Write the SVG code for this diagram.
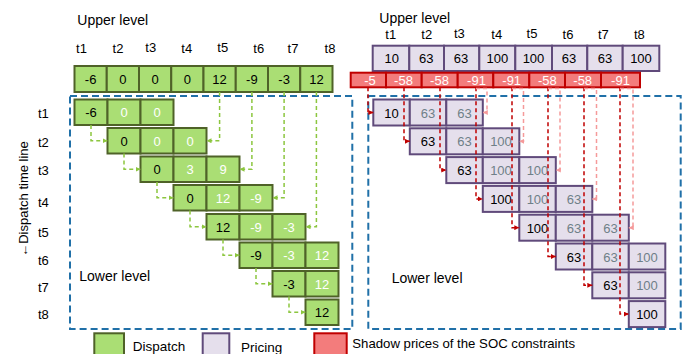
<svg xmlns="http://www.w3.org/2000/svg" width="683" height="354" viewBox="0 0 683 354">
<style>
text{font-family:"Liberation Sans",Arial,sans-serif;fill:#000}
.lbl{font-size:14px}
.t{font-size:13px;text-anchor:middle}
.v{font-size:13px;text-anchor:middle}
.w{fill:#fff}
.g{fill:#6f7f88}
.gb{fill:#aade74;stroke:#4f6228;stroke-width:2}
.pb{fill:#e5dfec;stroke:#604a7b;stroke-width:2}
.rb{fill:#f37c7c;stroke:#c00000;stroke-width:2}
.frame{fill:none;stroke:#2070a8;stroke-width:2;stroke-dasharray:7 4}
.cg{fill:none;stroke:#8cc63f;stroke-width:1.5;stroke-dasharray:4 3;marker-end:url(#ag)}
.cr{fill:none;stroke:#c00000;stroke-width:1.5;stroke-dasharray:4 3;marker-end:url(#ar)}
.cp{fill:none;stroke:#f59a9a;stroke-width:1.5;stroke-dasharray:4 3;marker-end:url(#ap)}
</style>
<defs>
<marker id="ag" viewBox="0 0 6 6" refX="6" refY="3" markerWidth="5" markerHeight="5" orient="auto" markerUnits="userSpaceOnUse"><path d="M0,0 L6,3 L0,6 z" fill="#8cc63f"/></marker>
<marker id="ar" viewBox="0 0 6 6" refX="6" refY="3" markerWidth="5" markerHeight="5" orient="auto" markerUnits="userSpaceOnUse"><path d="M0,0 L6,3 L0,6 z" fill="#c00000"/></marker>
<marker id="ap" viewBox="0 0 6 6" refX="6" refY="3" markerWidth="5" markerHeight="5" orient="auto" markerUnits="userSpaceOnUse"><path d="M0,0 L6,3 L0,6 z" fill="#f59a9a"/></marker>
</defs>

<g id="frames">
<rect class="frame" x="70" y="96" width="282.3" height="233"/>
<rect class="frame" x="368.3" y="96" width="312.4" height="233"/>
</g>

<g id="labels">
<text class="lbl" x="77.3" y="25">Upper level</text>
<text class="lbl" x="379.3" y="22.5">Upper level</text>
<text class="lbl" x="79.3" y="281">Lower level</text>
<text class="lbl" x="391.7" y="282.5">Lower level</text>
<text class="t" transform="translate(28,199) rotate(-90)">←Dispatch time line</text>
<text class="t" x="81.5" y="53">t1</text>
<text class="t" x="118" y="53">t2</text>
<text class="t" x="150.7" y="51.5">t3</text>
<text class="t" x="186.7" y="53">t4</text>
<text class="t" x="222.7" y="51.5">t5</text>
<text class="t" x="258.7" y="53">t6</text>
<text class="t" x="293" y="53">t7</text>
<text class="t" x="330" y="53">t8</text>
<text class="t" x="390.7" y="39">t1</text>
<text class="t" x="426.7" y="39">t2</text>
<text class="t" x="459.3" y="38">t3</text>
<text class="t" x="496.7" y="39">t4</text>
<text class="t" x="532" y="38">t5</text>
<text class="t" x="568" y="39">t6</text>
<text class="t" x="603.3" y="39">t7</text>
<text class="t" x="639.3" y="39">t8</text>
<text class="t" x="43.3" y="118">t1</text>
<text class="t" x="43.3" y="147">t2</text>
<text class="t" x="43.3" y="174.5">t3</text>
<text class="t" x="43.3" y="206.5">t4</text>
<text class="t" x="43.3" y="237">t5</text>
<text class="t" x="43.3" y="265">t6</text>
<text class="t" x="43.3" y="292">t7</text>
<text class="t" x="43.3" y="319">t8</text>
</g>

<g id="left-upper">
<rect class="gb" x="74.5" y="66" width="32.25" height="26"/>
<rect class="gb" x="106.75" y="66" width="32.25" height="26"/>
<rect class="gb" x="139" y="66" width="32.25" height="26"/>
<rect class="gb" x="171.25" y="66" width="32.25" height="26"/>
<rect class="gb" x="203.5" y="66" width="32.25" height="26"/>
<rect class="gb" x="235.75" y="66" width="32.25" height="26"/>
<rect class="gb" x="268" y="66" width="32.25" height="26"/>
<rect class="gb" x="300.25" y="66" width="32.25" height="26"/>
<text class="v" x="90.6" y="83.5">-6</text>
<text class="v" x="122.9" y="83.5">0</text>
<text class="v" x="155.1" y="83.5">0</text>
<text class="v" x="187.4" y="83.5">0</text>
<text class="v" x="219.6" y="83.5">12</text>
<text class="v" x="251.9" y="83.5">-9</text>
<text class="v" x="284.1" y="83.5">-3</text>
<text class="v" x="316.4" y="83.5">12</text>
</g>

<g id="left-t1">
<rect class="gb" x="74.5" y="99.5" width="33" height="25.5"/><rect class="gb" x="107.5" y="99.5" width="33" height="25.5"/><rect class="gb" x="140.5" y="99.5" width="33" height="25.5"/>
<text class="v" x="91" y="117">-6</text><text class="v w" x="124" y="117">0</text><text class="v w" x="157" y="117">0</text>
</g>
<g id="left-t2">
<rect class="gb" x="107.5" y="128" width="33" height="25.5"/><rect class="gb" x="140.5" y="128" width="33" height="25.5"/><rect class="gb" x="173.5" y="128" width="33" height="25.5"/>
<text class="v" x="124" y="145.5">0</text><text class="v w" x="157" y="145.5">0</text><text class="v w" x="190" y="145.5">0</text>
</g>
<g id="left-t3">
<rect class="gb" x="140.5" y="156.5" width="33" height="25.5"/><rect class="gb" x="173.5" y="156.5" width="33" height="25.5"/><rect class="gb" x="206.5" y="156.5" width="33" height="25.5"/>
<text class="v" x="157" y="174">0</text><text class="v w" x="190" y="174">3</text><text class="v w" x="223" y="174">9</text>
</g>
<g id="left-t4">
<rect class="gb" x="173.5" y="185" width="33" height="25.5"/><rect class="gb" x="206.5" y="185" width="33" height="25.5"/><rect class="gb" x="239.5" y="185" width="33" height="25.5"/>
<text class="v" x="190" y="202.5">0</text><text class="v w" x="223" y="202.5">12</text><text class="v w" x="256" y="202.5">-9</text>
</g>
<g id="left-t5">
<rect class="gb" x="206.5" y="214" width="33" height="25.5"/><rect class="gb" x="239.5" y="214" width="33" height="25.5"/><rect class="gb" x="272.5" y="214" width="33" height="25.5"/>
<text class="v" x="223" y="231.5">12</text><text class="v w" x="256" y="231.5">-9</text><text class="v w" x="289" y="231.5">-3</text>
</g>
<g id="left-t6">
<rect class="gb" x="239.5" y="242.5" width="33" height="25.5"/><rect class="gb" x="272.5" y="242.5" width="33" height="25.5"/><rect class="gb" x="305.5" y="242.5" width="33" height="25.5"/>
<text class="v" x="256" y="260">-9</text><text class="v w" x="289" y="260">-3</text><text class="v w" x="322" y="260">12</text>
</g>
<g id="left-t7">
<rect class="gb" x="272.5" y="271" width="33" height="25.5"/><rect class="gb" x="305.5" y="271" width="33" height="25.5"/>
<text class="v" x="289" y="288.5">-3</text><text class="v w" x="322" y="288.5">12</text>
</g>
<g id="left-t8">
<rect class="gb" x="305.5" y="299.5" width="33" height="25.5"/>
<text class="v" x="322" y="317">12</text>
</g>

<g id="right-upper">
<rect class="pb" x="372.7" y="45.7" width="36.6" height="25.3"/>
<rect class="pb" x="409.3" y="45.7" width="34.7" height="25.3"/>
<rect class="pb" x="444" y="45.7" width="35.3" height="25.3"/>
<rect class="pb" x="479.3" y="45.7" width="36" height="25.3"/>
<rect class="pb" x="515.3" y="45.7" width="36.7" height="25.3"/>
<rect class="pb" x="552" y="45.7" width="35.3" height="25.3"/>
<rect class="pb" x="587.3" y="45.7" width="35.4" height="25.3"/>
<rect class="pb" x="622.7" y="45.7" width="36.6" height="25.3"/>
<text class="v" x="391.7" y="63">10</text>
<text class="v" x="426.3" y="63">63</text>
<text class="v" x="461" y="63">63</text>
<text class="v" x="497.3" y="63">100</text>
<text class="v" x="533.5" y="63">100</text>
<text class="v" x="569" y="63">63</text>
<text class="v" x="605" y="63">63</text>
<text class="v" x="641" y="63">100</text>
</g>

<g id="shadow-prices">
<rect class="rb" x="350.7" y="72.7" width="35.3" height="14.6"/>
<rect class="rb" x="386" y="72.7" width="35.7" height="14.6"/>
<rect class="rb" x="421.7" y="72.7" width="36" height="14.6"/>
<rect class="rb" x="457.7" y="72.7" width="35.6" height="14.6"/>
<rect class="rb" x="493.3" y="72.7" width="36" height="14.6"/>
<rect class="rb" x="529.3" y="72.7" width="35.7" height="14.6"/>
<rect class="rb" x="565" y="72.7" width="36" height="14.6"/>
<rect class="rb" x="601" y="72.7" width="39" height="14.6"/>
<text class="v w" x="370" y="85">-5</text>
<text class="v w" x="403.5" y="85">-58</text>
<text class="v w" x="439.5" y="85">-58</text>
<text class="v w" x="476.5" y="85">-91</text>
<text class="v w" x="511.7" y="85">-91</text>
<text class="v w" x="547.3" y="85">-58</text>
<text class="v w" x="582.7" y="85">-58</text>
<text class="v w" x="620.5" y="85">-91</text>
</g>

<g id="right-t1">
<rect class="pb" x="373.3" y="99.5" width="36.5" height="26"/><rect class="pb" x="409.8" y="99.5" width="36.5" height="26"/><rect class="pb" x="446.3" y="99.5" width="36.5" height="26"/>
<text class="v" x="391.5" y="117.5">10</text><text class="v g" x="428" y="117.5">63</text><text class="v g" x="464.5" y="117.5">63</text>
</g>
<g id="right-t2">
<rect class="pb" x="409.8" y="128.3" width="36.5" height="26"/><rect class="pb" x="446.3" y="128.3" width="36.5" height="26"/><rect class="pb" x="482.8" y="128.3" width="36.5" height="26"/>
<text class="v" x="428" y="146.3">63</text><text class="v g" x="464.5" y="146.3">63</text><text class="v g" x="501" y="146.3">100</text>
</g>
<g id="right-t3">
<rect class="pb" x="446.3" y="157.1" width="36.5" height="26"/><rect class="pb" x="482.8" y="157.1" width="36.5" height="26"/><rect class="pb" x="519.3" y="157.1" width="36.5" height="26"/>
<text class="v" x="464.5" y="175.1">63</text><text class="v g" x="501" y="175.1">100</text><text class="v g" x="537.5" y="175.1">100</text>
</g>
<g id="right-t4">
<rect class="pb" x="482.8" y="185.9" width="36.5" height="26"/><rect class="pb" x="519.3" y="185.9" width="36.5" height="26"/><rect class="pb" x="555.8" y="185.9" width="36.5" height="26"/>
<text class="v" x="501" y="203.9">100</text><text class="v g" x="537.5" y="203.9">100</text><text class="v g" x="574" y="203.9">63</text>
</g>
<g id="right-t5">
<rect class="pb" x="519.3" y="214.7" width="36.5" height="26"/><rect class="pb" x="555.8" y="214.7" width="36.5" height="26"/><rect class="pb" x="592.3" y="214.7" width="36.5" height="26"/>
<text class="v" x="537.5" y="232.7">100</text><text class="v g" x="574" y="232.7">63</text><text class="v g" x="610.5" y="232.7">63</text>
</g>
<g id="right-t6">
<rect class="pb" x="555.8" y="243.5" width="36.5" height="26"/><rect class="pb" x="592.3" y="243.5" width="36.5" height="26"/><rect class="pb" x="628.8" y="243.5" width="36.5" height="26"/>
<text class="v" x="574" y="261.5">63</text><text class="v g" x="610.5" y="261.5">63</text><text class="v g" x="647" y="261.5">100</text>
</g>
<g id="right-t7">
<rect class="pb" x="592.3" y="272.3" width="36.5" height="26"/><rect class="pb" x="628.8" y="272.3" width="36.5" height="26"/>
<text class="v" x="610.5" y="290.3">63</text><text class="v g" x="647" y="290.3">100</text>
</g>
<g id="right-t8">
<rect class="pb" x="628.8" y="301.1" width="36.5" height="26"/>
<text class="v" x="647" y="319.1">100</text>
</g>

<g id="connectors">
<path class="cg" d="M91 125 V140.75 H107.5"/>
<path class="cg" d="M124 153.5 V169.25 H140.5"/>
<path class="cg" d="M157 182 V197.75 H173.5"/>
<path class="cg" d="M190 210.5 V226.75 H206.5"/>
<path class="cg" d="M223 239.5 V255.25 H239.5"/>
<path class="cg" d="M256 268 V283.75 H272.5"/>
<path class="cg" d="M289 296.5 V312.25 H305.5"/>
<path class="cg" d="M219.6 92 V140.75 H206.5"/>
<path class="cg" d="M251.9 92 V169.25 H239.5"/>
<path class="cg" d="M284.1 92 V197.75 H272.5"/>
<path class="cg" d="M316.4 92 V226.75 H305.5"/>
<path class="cr" d="M368 87.3 V112.5 H373.3"/>
<path class="cr" d="M404 87.3 V141.3 H409.8"/>
<path class="cr" d="M440 87.3 V170.1 H446.3"/>
<path class="cr" d="M476 87.3 V198.9 H482.8"/>
<path class="cr" d="M512 87.3 V227.7 H519.3"/>
<path class="cr" d="M548 87.3 V256.5 H555.8"/>
<path class="cr" d="M584 87.3 V285.3 H592.3"/>
<path class="cr" d="M620 87.3 V314.1 H628.8"/>
<path class="cp" d="M476 88.5 H487 V112.5 H482.8"/>
<path class="cp" d="M512 88.5 H523.5 V141.3 H519.3"/>
<path class="cp" d="M548 88.5 H560 V170.1 H555.8"/>
<path class="cp" d="M584 88.5 H596.5 V198.9 H592.3"/>
<path class="cp" d="M620 88.5 H633 V227.7 H628.8"/>
</g>

<g id="legend">
<rect class="gb" x="94.3" y="333.3" width="29.7" height="24"/>
<text class="lbl" x="132.7" y="351" style="font-size:13.5px">Dispatch</text>
<rect class="pb" x="202.7" y="333.3" width="26.6" height="24"/>
<text class="lbl" x="241" y="351.5" style="font-size:13.5px">Pricing</text>
<rect class="rb" x="314.3" y="333.3" width="32.4" height="24"/>
<text class="lbl" x="352.3" y="347.5" style="font-size:13.2px">Shadow prices of the SOC constraints</text>
</g>
</svg>
